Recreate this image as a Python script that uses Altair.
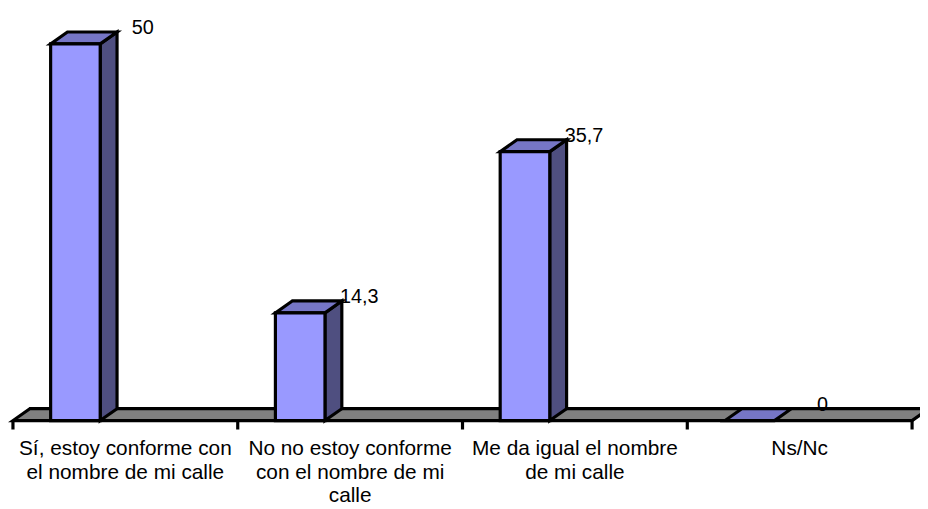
import altair as alt
import pandas as pd

# ---- data ----
categories = [
    "Sí, estoy conforme con\nel nombre de mi calle",
    "No no estoy conforme\ncon el nombre de mi\ncalle",
    "Me da igual el nombre\nde mi calle",
    "Ns/Nc",
]
values = [50, 14.3, 35.7, 0]
value_labels = ["50", "14,3", "35,7", "0"]

# ---- layout (pixels) ----
W, H = 920, 501
X0 = 5.0       # svg x of first category boundary
CW = 226.75    # category width in px
Y0 = 414.0     # svg y of value 0 (floor front edge)
K = 7.6        # px per unit value


def ux(p):
    return p / CW


def uy(p):
    return p / K


GAP = ux(38)
BW = ux(50)
DX = ux(17)
DY = uy(12)
n = len(categories)
SW = 3.2

xs = alt.Scale(domain=[-X0 / CW, (W - X0) / CW], zero=False, nice=False)
ys = alt.Scale(domain=[(Y0 - H) / K, Y0 / K], zero=False, nice=False)

FRONT = "#9999FF"
TOP = "#7676C6"
SIDE = "#4F4F80"
FLOOR = "#808080"
FONT = "Liberation Sans"

# floor parallelogram
floor_df = pd.DataFrame([
    {"y": 0.0, "x": 0.0, "x2": float(n)},
    {"y": DY, "x": DX, "x2": n + DX},
])

top_rows, side_rows, front_rows, lab_rows, cat_rows = [], [], [], [], []
for i, (c, v, lab) in enumerate(zip(categories, values, value_labels)):
    xl = i + GAP
    xr = xl + BW
    top_rows += [
        {"bar": i, "y": v, "x": xl, "x2": xr},
        {"bar": i, "y": v + DY, "x": xl + DX, "x2": xr + DX},
    ]
    if v > 0:
        side_rows += [
            {"bar": i, "x": xr, "y": 0.0, "y2": v},
            {"bar": i, "x": xr + DX, "y": DY, "y2": v + DY},
        ]
        front_rows.append({"bar": i, "x": xl, "x2": xr, "y": 0.0, "y2": v})
    lab_rows.append({"x": i + ux(142), "y": v, "t": lab})
    cat_rows.append({"x": i + 0.5, "y": uy(-34.5), "t": c})

tick_df = pd.DataFrame([{"x": float(i), "y": 0.0, "y2": uy(-9)} for i in range(n + 1)])

base_x = lambda f="x": alt.X(f"{f}:Q", scale=xs, axis=None)
base_y = lambda f="y": alt.Y(f"{f}:Q", scale=ys, axis=None)

floor = alt.Chart(floor_df).mark_area(
    orient="horizontal", fill=FLOOR, stroke="black", strokeWidth=SW, strokeJoin="miter"
).encode(y=base_y(), x=base_x(), x2="x2:Q")

ticks = alt.Chart(tick_df).mark_rule(color="black", strokeWidth=SW).encode(
    x=base_x(), y=base_y(), y2="y2:Q"
)

sides = alt.Chart(pd.DataFrame(side_rows)).mark_area(
    orient="vertical", fill=SIDE, stroke="black", strokeWidth=SW, strokeJoin="miter"
).encode(x=base_x(), y=base_y(), y2="y2:Q", detail="bar:N")

tops = alt.Chart(pd.DataFrame(top_rows)).mark_area(
    orient="horizontal", fill=TOP, stroke="black", strokeWidth=SW, strokeJoin="miter"
).encode(y=base_y(), x=base_x(), x2="x2:Q", detail="bar:N")

fronts = alt.Chart(pd.DataFrame(front_rows)).mark_rect(
    fill=FRONT, stroke="black", strokeWidth=SW
).encode(x=base_x(), x2="x2:Q", y=base_y(), y2="y2:Q")

vlabels = alt.Chart(pd.DataFrame(lab_rows)).mark_text(
    align="right", baseline="alphabetic", dy=-10, fontSize=20, font=FONT, color="black"
).encode(x=base_x(), y=base_y(), text="t:N")

clabels = alt.Chart(pd.DataFrame(cat_rows)).mark_text(
    align="center", baseline="alphabetic", fontSize=21, font=FONT, color="black",
    lineBreak="\n", lineHeight=24
).encode(x=base_x(), y=base_y(), text="t:N")

chart = alt.layer(floor, ticks, sides, tops, fronts, vlabels, clabels).properties(
    width=W, height=H, padding=0, autosize="none", background="white"
).configure_view(strokeWidth=0)

chart.save("out.html", embed_options={"renderer": "svg", "actions": False})
